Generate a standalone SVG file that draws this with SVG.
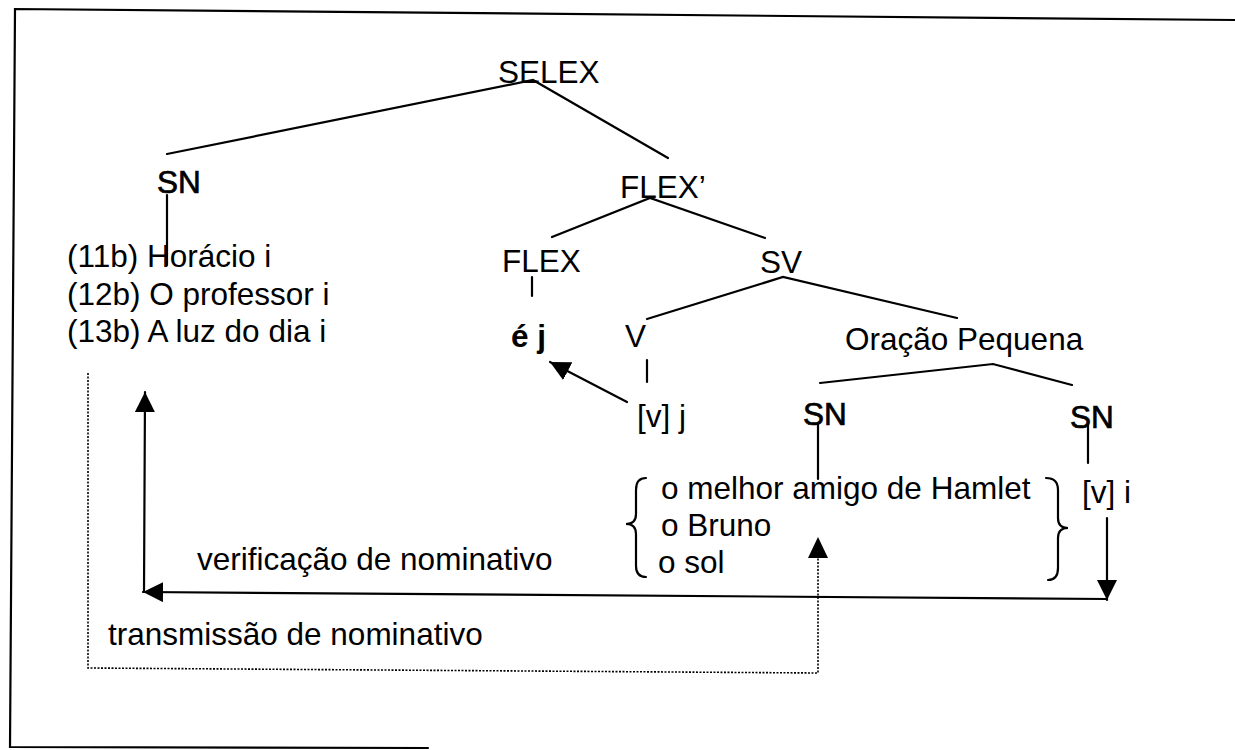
<svg xmlns="http://www.w3.org/2000/svg" width="1235" height="750" viewBox="0 0 1235 750">
<style>
text{font-family:"Liberation Sans",Arial,sans-serif;font-size:31.5px;fill:#000}
.b{font-weight:bold}
.m{stroke:#000;stroke-width:0.7}
.ln{stroke:#000;stroke-width:2.2;fill:none;stroke-linecap:round}
.dot{stroke:#000;stroke-width:1.6;fill:none;stroke-dasharray:2 1.5}
</style>
<defs>
<marker id="ah" viewBox="0 0 20 20" refX="20" refY="10" markerWidth="20" markerHeight="20" markerUnits="userSpaceOnUse" orient="auto">
<path d="M0,0 L20,10 L0,20 z" fill="#000"/>
</marker>
</defs>
<rect width="1235" height="750" fill="#fff"/>
<g id="frame" class="ln" stroke-width="2.6">
<path d="M1235,20 L15,9 L10,747 L428,748"/>
</g>
<g id="connectors">
<path class="ln" d="M167,154 L533,80 L668,158"/>
<line class="ln" x1="167" y1="195" x2="167" y2="265"/>
<path class="ln" d="M552,237 L650,198 L765,238"/>
<line class="ln" x1="532" y1="277" x2="532" y2="296"/>
<path class="ln" d="M647,319 L783,277 L957,318"/>
<line class="ln" x1="647" y1="360" x2="647" y2="382"/>
<line class="ln" x1="627" y1="402" x2="550" y2="362" marker-end="url(#ah)"/>
<path class="ln" d="M820,383 L993,364 L1072,385"/>
<line class="ln" x1="818" y1="423" x2="818" y2="479"/>
<line class="ln" x1="1088" y1="425" x2="1088" y2="463"/>
<line class="ln" x1="1107" y1="518" x2="1107" y2="600" marker-end="url(#ah)"/>
<line class="ln" x1="1107" y1="599" x2="143" y2="592" marker-end="url(#ah)"/>
<line class="ln" x1="144" y1="592" x2="145" y2="392" marker-end="url(#ah)"/>
<path class="dot" d="M88,373 L88,668 L818,673 L818,540"/>
<path d="M808,558 L818,537 L828,558 z" fill="#000"/>
<path class="ln" stroke-width="1.8" d="M646,478 Q636,478 636,490 L636,514 Q636,524 626,524 Q636,524 636,534 L636,566 Q636,577 646,577"/>
<path class="ln" stroke-width="1.8" d="M1046,478 Q1058,478 1058,490 L1058,518 Q1058,528 1068,528 Q1058,528 1058,538 L1058,568 Q1058,580 1048,580"/>
</g>
<g id="n-selex"><text x="498" y="83">SELEX</text></g>
<g id="n-sn1"><text class="m" x="157" y="193">SN</text></g>
<g id="n-flexbar"><text x="620" y="198">FLEX’</text></g>
<g id="n-subjects">
<text x="67" y="267">(11b) Horácio i</text>
<text x="67" y="305">(12b) O professor i</text>
<text x="67" y="342">(13b) A luz do dia i</text>
</g>
<g id="n-flex"><text x="502" y="272">FLEX</text></g>
<g id="n-sv"><text x="760" y="273">SV</text></g>
<g id="n-ej"><text class="b" x="511" y="347">é j</text></g>
<g id="n-v"><text x="625" y="347">V</text></g>
<g id="n-vj"><text x="637" y="427">[v] j</text></g>
<g id="n-op"><text x="845" y="350">Oração Pequena</text></g>
<g id="n-sn2"><text class="m" x="803" y="425">SN</text></g>
<g id="n-sn3"><text class="m" x="1070" y="428">SN</text></g>
<g id="n-objects">
<text x="661" y="499">o melhor amigo de Hamlet</text>
<text x="661" y="536">o Bruno</text>
<text x="658" y="573">o sol</text>
</g>
<g id="n-vi"><text x="1082" y="503">[v] i</text></g>
<g id="l-verif"><text x="197" y="570">verificação de nominativo</text></g>
<g id="l-trans"><text x="108" y="645">transmissão de nominativo</text></g>
</svg>
